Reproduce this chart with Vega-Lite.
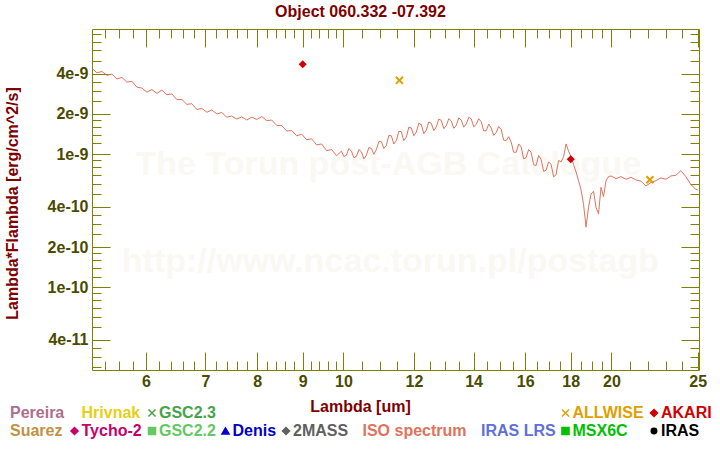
{
  "$schema": "https://vega.github.io/schema/vega-lite/v6.json",
  "autosize": {"type": "none"},
  "width": 607,
  "height": 341,
  "padding": {"left": 92, "top": 29, "right": 21, "bottom": 80},
  "background": "white",
  "title": {"text": "Object 060.332 -07.392", "frame": "group", "anchor": "middle", "dx": -35, "dy": 15, "offset": 11, "baseline": "alphabetic", "font": "Liberation Sans", "fontSize": 16, "fontWeight": "bold", "color": "#800000"},
  "config": {
    "view": {"stroke": null},
    "axis": {"grid": false, "domainColor": "#808000", "tickColor": "#808000", "domainWidth": 1, "tickWidth": 1, "labelColor": "#4b4b00", "labelFont": "Liberation Sans", "labelFontWeight": "bold", "labelFontSize": 16, "titleFont": "Liberation Sans", "titleFontWeight": "bold", "titleFontSize": 16, "titleColor": "#800000", "labelFlush": false, "labelOverlap": false}
  },
  "datasets": {
    "iso": [
      {"source": "ISO spectrum", "wl": 5.220, "flux": 4.39e-9},
      {"source": "ISO spectrum", "wl": 5.288, "flux": 4.08e-9},
      {"source": "ISO spectrum", "wl": 5.356, "flux": 4.17e-9},
      {"source": "ISO spectrum", "wl": 5.426, "flux": 3.90e-9},
      {"source": "ISO spectrum", "wl": 5.496, "flux": 3.99e-9},
      {"source": "ISO spectrum", "wl": 5.568, "flux": 3.66e-9},
      {"source": "ISO spectrum", "wl": 5.640, "flux": 3.76e-9},
      {"source": "ISO spectrum", "wl": 5.713, "flux": 3.47e-9},
      {"source": "ISO spectrum", "wl": 5.788, "flux": 3.52e-9},
      {"source": "ISO spectrum", "wl": 5.863, "flux": 3.18e-9},
      {"source": "ISO spectrum", "wl": 5.939, "flux": 3.13e-9},
      {"source": "ISO spectrum", "wl": 6.016, "flux": 2.92e-9},
      {"source": "ISO spectrum", "wl": 6.094, "flux": 3.05e-9},
      {"source": "ISO spectrum", "wl": 6.174, "flux": 2.86e-9},
      {"source": "ISO spectrum", "wl": 6.254, "flux": 3.02e-9},
      {"source": "ISO spectrum", "wl": 6.335, "flux": 2.79e-9},
      {"source": "ISO spectrum", "wl": 6.418, "flux": 2.83e-9},
      {"source": "ISO spectrum", "wl": 6.501, "flux": 2.56e-9},
      {"source": "ISO spectrum", "wl": 6.586, "flux": 2.57e-9},
      {"source": "ISO spectrum", "wl": 6.671, "flux": 2.36e-9},
      {"source": "ISO spectrum", "wl": 6.758, "flux": 2.39e-9},
      {"source": "ISO spectrum", "wl": 6.846, "flux": 2.16e-9},
      {"source": "ISO spectrum", "wl": 6.935, "flux": 2.20e-9},
      {"source": "ISO spectrum", "wl": 7.025, "flux": 2.06e-9},
      {"source": "ISO spectrum", "wl": 7.116, "flux": 2.14e-9},
      {"source": "ISO spectrum", "wl": 7.209, "flux": 2.00e-9},
      {"source": "ISO spectrum", "wl": 7.302, "flux": 2.05e-9},
      {"source": "ISO spectrum", "wl": 7.397, "flux": 1.89e-9},
      {"source": "ISO spectrum", "wl": 7.493, "flux": 1.93e-9},
      {"source": "ISO spectrum", "wl": 7.591, "flux": 1.83e-9},
      {"source": "ISO spectrum", "wl": 7.689, "flux": 1.90e-9},
      {"source": "ISO spectrum", "wl": 7.789, "flux": 1.80e-9},
      {"source": "ISO spectrum", "wl": 7.890, "flux": 1.89e-9},
      {"source": "ISO spectrum", "wl": 7.993, "flux": 1.82e-9},
      {"source": "ISO spectrum", "wl": 8.097, "flux": 1.91e-9},
      {"source": "ISO spectrum", "wl": 8.202, "flux": 1.78e-9},
      {"source": "ISO spectrum", "wl": 8.308, "flux": 1.80e-9},
      {"source": "ISO spectrum", "wl": 8.416, "flux": 1.64e-9},
      {"source": "ISO spectrum", "wl": 8.526, "flux": 1.63e-9},
      {"source": "ISO spectrum", "wl": 8.637, "flux": 1.49e-9},
      {"source": "ISO spectrum", "wl": 8.749, "flux": 1.50e-9},
      {"source": "ISO spectrum", "wl": 8.862, "flux": 1.37e-9},
      {"source": "ISO spectrum", "wl": 8.977, "flux": 1.41e-9},
      {"source": "ISO spectrum", "wl": 9.094, "flux": 1.28e-9},
      {"source": "ISO spectrum", "wl": 9.212, "flux": 1.30e-9},
      {"source": "ISO spectrum", "wl": 9.332, "flux": 1.17e-9},
      {"source": "ISO spectrum", "wl": 9.453, "flux": 1.19e-9},
      {"source": "ISO spectrum", "wl": 9.576, "flux": 1.06e-9},
      {"source": "ISO spectrum", "wl": 9.700, "flux": 1.08e-9},
      {"source": "ISO spectrum", "wl": 9.826, "flux": 0.97e-9},
      {"source": "ISO spectrum", "wl": 9.949, "flux": 1.05e-9},
      {"source": "ISO spectrum", "wl": 10.013, "flux": 0.955e-9},
      {"source": "ISO spectrum", "wl": 10.078, "flux": 0.98e-9},
      {"source": "ISO spectrum", "wl": 10.143, "flux": 1.10e-9},
      {"source": "ISO spectrum", "wl": 10.209, "flux": 1.05e-9},
      {"source": "ISO spectrum", "wl": 10.275, "flux": 0.938e-9},
      {"source": "ISO spectrum", "wl": 10.342, "flux": 0.96e-9},
      {"source": "ISO spectrum", "wl": 10.409, "flux": 1.08e-9},
      {"source": "ISO spectrum", "wl": 10.476, "flux": 1.04e-9},
      {"source": "ISO spectrum", "wl": 10.544, "flux": 0.92e-9},
      {"source": "ISO spectrum", "wl": 10.612, "flux": 0.98e-9},
      {"source": "ISO spectrum", "wl": 10.681, "flux": 1.12e-9},
      {"source": "ISO spectrum", "wl": 10.750, "flux": 1.10e-9},
      {"source": "ISO spectrum", "wl": 10.820, "flux": 0.995e-9},
      {"source": "ISO spectrum", "wl": 10.890, "flux": 1.08e-9},
      {"source": "ISO spectrum", "wl": 10.960, "flux": 1.24e-9},
      {"source": "ISO spectrum", "wl": 11.031, "flux": 1.24e-9},
      {"source": "ISO spectrum", "wl": 11.102, "flux": 1.10e-9},
      {"source": "ISO spectrum", "wl": 11.174, "flux": 1.16e-9},
      {"source": "ISO spectrum", "wl": 11.247, "flux": 1.38e-9},
      {"source": "ISO spectrum", "wl": 11.320, "flux": 1.37e-9},
      {"source": "ISO spectrum", "wl": 11.393, "flux": 1.19e-9},
      {"source": "ISO spectrum", "wl": 11.467, "flux": 1.26e-9},
      {"source": "ISO spectrum", "wl": 11.541, "flux": 1.48e-9},
      {"source": "ISO spectrum", "wl": 11.616, "flux": 1.47e-9},
      {"source": "ISO spectrum", "wl": 11.691, "flux": 1.26e-9},
      {"source": "ISO spectrum", "wl": 11.767, "flux": 1.34e-9},
      {"source": "ISO spectrum", "wl": 11.843, "flux": 1.59e-9},
      {"source": "ISO spectrum", "wl": 11.920, "flux": 1.57e-9},
      {"source": "ISO spectrum", "wl": 11.997, "flux": 1.37e-9},
      {"source": "ISO spectrum", "wl": 12.075, "flux": 1.46e-9},
      {"source": "ISO spectrum", "wl": 12.153, "flux": 1.70e-9},
      {"source": "ISO spectrum", "wl": 12.231, "flux": 1.67e-9},
      {"source": "ISO spectrum", "wl": 12.310, "flux": 1.42e-9},
      {"source": "ISO spectrum", "wl": 12.390, "flux": 1.51e-9},
      {"source": "ISO spectrum", "wl": 12.470, "flux": 1.74e-9},
      {"source": "ISO spectrum", "wl": 12.551, "flux": 1.70e-9},
      {"source": "ISO spectrum", "wl": 12.632, "flux": 1.50e-9},
      {"source": "ISO spectrum", "wl": 12.714, "flux": 1.60e-9},
      {"source": "ISO spectrum", "wl": 12.797, "flux": 1.83e-9},
      {"source": "ISO spectrum", "wl": 12.880, "flux": 1.79e-9},
      {"source": "ISO spectrum", "wl": 12.963, "flux": 1.55e-9},
      {"source": "ISO spectrum", "wl": 13.047, "flux": 1.63e-9},
      {"source": "ISO spectrum", "wl": 13.132, "flux": 1.84e-9},
      {"source": "ISO spectrum", "wl": 13.217, "flux": 1.77e-9},
      {"source": "ISO spectrum", "wl": 13.302, "flux": 1.56e-9},
      {"source": "ISO spectrum", "wl": 13.388, "flux": 1.64e-9},
      {"source": "ISO spectrum", "wl": 13.475, "flux": 1.87e-9},
      {"source": "ISO spectrum", "wl": 13.562, "flux": 1.80e-9},
      {"source": "ISO spectrum", "wl": 13.650, "flux": 1.59e-9},
      {"source": "ISO spectrum", "wl": 13.739, "flux": 1.68e-9},
      {"source": "ISO spectrum", "wl": 13.828, "flux": 1.89e-9},
      {"source": "ISO spectrum", "wl": 13.917, "flux": 1.84e-9},
      {"source": "ISO spectrum", "wl": 14.007, "flux": 1.60e-9},
      {"source": "ISO spectrum", "wl": 14.098, "flux": 1.67e-9},
      {"source": "ISO spectrum", "wl": 14.189, "flux": 1.84e-9},
      {"source": "ISO spectrum", "wl": 14.281, "flux": 1.75e-9},
      {"source": "ISO spectrum", "wl": 14.374, "flux": 1.49e-9},
      {"source": "ISO spectrum", "wl": 14.467, "flux": 1.50e-9},
      {"source": "ISO spectrum", "wl": 14.561, "flux": 1.68e-9},
      {"source": "ISO spectrum", "wl": 14.655, "flux": 1.57e-9},
      {"source": "ISO spectrum", "wl": 14.750, "flux": 1.38e-9},
      {"source": "ISO spectrum", "wl": 14.845, "flux": 1.45e-9},
      {"source": "ISO spectrum", "wl": 14.941, "flux": 1.61e-9},
      {"source": "ISO spectrum", "wl": 15.038, "flux": 1.53e-9},
      {"source": "ISO spectrum", "wl": 15.135, "flux": 1.27e-9},
      {"source": "ISO spectrum", "wl": 15.233, "flux": 1.26e-9},
      {"source": "ISO spectrum", "wl": 15.332, "flux": 1.35e-9},
      {"source": "ISO spectrum", "wl": 15.431, "flux": 1.23e-9},
      {"source": "ISO spectrum", "wl": 15.531, "flux": 1.03e-9},
      {"source": "ISO spectrum", "wl": 15.632, "flux": 1.03e-9},
      {"source": "ISO spectrum", "wl": 15.733, "flux": 1.19e-9},
      {"source": "ISO spectrum", "wl": 15.835, "flux": 1.13e-9},
      {"source": "ISO spectrum", "wl": 15.937, "flux": 0.92e-9},
      {"source": "ISO spectrum", "wl": 16.040, "flux": 0.94e-9},
      {"source": "ISO spectrum", "wl": 16.144, "flux": 1.08e-9},
      {"source": "ISO spectrum", "wl": 16.249, "flux": 1.03e-9},
      {"source": "ISO spectrum", "wl": 16.354, "flux": 0.83e-9},
      {"source": "ISO spectrum", "wl": 16.460, "flux": 0.82e-9},
      {"source": "ISO spectrum", "wl": 16.567, "flux": 0.975e-9},
      {"source": "ISO spectrum", "wl": 16.674, "flux": 0.91e-9},
      {"source": "ISO spectrum", "wl": 16.782, "flux": 0.741e-9},
      {"source": "ISO spectrum", "wl": 16.890, "flux": 0.755e-9},
      {"source": "ISO spectrum", "wl": 17.000, "flux": 0.871e-9},
      {"source": "ISO spectrum", "wl": 17.110, "flux": 0.836e-9},
      {"source": "ISO spectrum", "wl": 17.221, "flux": 0.673e-9},
      {"source": "ISO spectrum", "wl": 17.332, "flux": 0.70e-9},
      {"source": "ISO spectrum", "wl": 17.444, "flux": 0.895e-9},
      {"source": "ISO spectrum", "wl": 17.557, "flux": 0.871e-9},
      {"source": "ISO spectrum", "wl": 17.671, "flux": 0.955e-9},
      {"source": "ISO spectrum", "wl": 17.786, "flux": 1.19e-9},
      {"source": "ISO spectrum", "wl": 17.901, "flux": 1.05e-9},
      {"source": "ISO spectrum", "wl": 18.017, "flux": 0.95e-9},
      {"source": "ISO spectrum", "wl": 18.134, "flux": 0.83e-9},
      {"source": "ISO spectrum", "wl": 18.251, "flux": 0.733e-9},
      {"source": "ISO spectrum", "wl": 18.369, "flux": 0.63e-9},
      {"source": "ISO spectrum", "wl": 18.488, "flux": 0.537e-9},
      {"source": "ISO spectrum", "wl": 18.608, "flux": 0.417e-9},
      {"source": "ISO spectrum", "wl": 18.728, "flux": 0.282e-9},
      {"source": "ISO spectrum", "wl": 18.849, "flux": 0.398e-9},
      {"source": "ISO spectrum", "wl": 18.971, "flux": 0.50e-9},
      {"source": "ISO spectrum", "wl": 19.094, "flux": 0.525e-9},
      {"source": "ISO spectrum", "wl": 19.218, "flux": 0.398e-9},
      {"source": "ISO spectrum", "wl": 19.342, "flux": 0.355e-9},
      {"source": "ISO spectrum", "wl": 19.467, "flux": 0.562e-9},
      {"source": "ISO spectrum", "wl": 19.593, "flux": 0.479e-9},
      {"source": "ISO spectrum", "wl": 19.720, "flux": 0.631e-9},
      {"source": "ISO spectrum", "wl": 19.848, "flux": 0.676e-9},
      {"source": "ISO spectrum", "wl": 19.976, "flux": 0.684e-9},
      {"source": "ISO spectrum", "wl": 20.236, "flux": 0.653e-9},
      {"source": "ISO spectrum", "wl": 20.499, "flux": 0.676e-9},
      {"source": "ISO spectrum", "wl": 20.765, "flux": 0.646e-9},
      {"source": "ISO spectrum", "wl": 21.035, "flux": 0.668e-9},
      {"source": "ISO spectrum", "wl": 21.308, "flux": 0.638e-9},
      {"source": "ISO spectrum", "wl": 21.585, "flux": 0.624e-9},
      {"source": "ISO spectrum", "wl": 21.865, "flux": 0.575e-9},
      {"source": "ISO spectrum", "wl": 22.149, "flux": 0.610e-9},
      {"source": "ISO spectrum", "wl": 22.437, "flux": 0.631e-9},
      {"source": "ISO spectrum", "wl": 22.728, "flux": 0.661e-9},
      {"source": "ISO spectrum", "wl": 23.024, "flux": 0.646e-9},
      {"source": "ISO spectrum", "wl": 23.323, "flux": 0.684e-9},
      {"source": "ISO spectrum", "wl": 23.625, "flux": 0.692e-9},
      {"source": "ISO spectrum", "wl": 23.932, "flux": 0.750e-9},
      {"source": "ISO spectrum", "wl": 24.243, "flux": 0.676e-9},
      {"source": "ISO spectrum", "wl": 24.558, "flux": 0.589e-9},
      {"source": "ISO spectrum", "wl": 24.877, "flux": 0.543e-9},
      {"source": "ISO spectrum", "wl": 25.0, "flux": 0.537e-9}
    ],
    "phot": [
      {"source": "AKARI", "wl": 9.0, "flux": 4.73e-9},
      {"source": "AKARI", "wl": 18.0, "flux": 0.912e-9},
      {"source": "ALLWISE", "wl": 11.56, "flux": 3.58e-9},
      {"source": "ALLWISE", "wl": 22.09, "flux": 0.64e-9}
    ],
    "mark1": [{"t": "The Torun post-AGB Catalogue"}],
    "mark2": [{"t": "http://www.ncac.torun.pl/postagb"}]
  },
  "layer": [
    {
      "data": {"name": "mark1"},
      "mark": {"type": "text", "font": "Liberation Sans", "fontWeight": "bold", "fontSize": 34, "color": "#faf8f3", "align": "center", "baseline": "middle"},
      "encoding": {
        "x": {"datum": 11.23, "type": "quantitative", "scale": {"type": "log", "domain": [5.22, 25.08], "nice": false, "zero": false},
              "axis": {"orient": "top", "values": [6, 7, 8, 9, 10, 12, 14, 16, 18, 20, 25], "labels": false, "domain": true, "ticks": true, "tickSize": -18, "title": null}},
        "y": {"datum": 8.27e-10, "type": "quantitative", "scale": {"type": "log", "domain": [2.38e-11, 8.7e-9], "nice": false, "zero": false},
              "axis": {"orient": "right", "values": [4e-11, 1e-10, 2e-10, 4e-10, 1e-9, 2e-9, 4e-9], "labels": false, "domain": true, "ticks": true, "tickSize": -18, "title": null}},
        "text": {"field": "t", "type": "nominal"}
      }
    },
    {
      "data": {"name": "mark2"},
      "mark": {"type": "text", "font": "Liberation Sans", "fontWeight": "bold", "fontSize": 34, "color": "#faf8f3", "align": "center", "baseline": "middle"},
      "encoding": {
        "x": {"datum": 11.29, "type": "quantitative", "scale": {"type": "log", "domain": [5.22, 25.08], "nice": false, "zero": false},
              "axis": {"orient": "top", "values": [5.4, 5.6, 5.8, 6.2, 6.4, 6.6, 6.8, 7.2, 7.4, 7.6, 7.8, 8.2, 8.4, 8.6, 8.8, 9.2, 9.4, 9.6, 9.8, 10.5, 11, 11.5, 12.5, 13, 13.5, 14.5, 15, 15.5, 16.5, 17, 17.5, 18.5, 19, 19.5, 21, 22, 23, 24], "labels": false, "domain": false, "ticks": true, "tickSize": -9, "title": null}},
        "y": {"datum": 1.54e-10, "type": "quantitative", "scale": {"type": "log", "domain": [2.38e-11, 8.7e-9], "nice": false, "zero": false},
              "axis": {"orient": "right", "values": [2.5e-11, 3e-11, 3.5e-11, 5e-11, 6e-11, 7e-11, 8e-11, 9e-11, 1.2e-10, 1.4e-10, 1.6e-10, 1.8e-10, 2.5e-10, 3e-10, 3.5e-10, 5e-10, 6e-10, 7e-10, 8e-10, 9e-10, 1.2e-9, 1.4e-9, 1.6e-9, 1.8e-9, 2.5e-9, 3e-9, 3.5e-9, 5e-9, 6e-9, 7e-9, 8e-9], "labels": false, "domain": false, "ticks": true, "tickSize": -9, "title": null}},
        "text": {"field": "t", "type": "nominal"}
      }
    },
    {
      "data": {"name": "iso"},
      "mark": {"type": "line", "strokeWidth": 1, "clip": true},
      "encoding": {
        "x": {"field": "wl", "type": "quantitative", "scale": {"type": "log", "domain": [5.22, 25.08], "nice": false, "zero": false},
              "axis": {"orient": "bottom", "values": [6, 7, 8, 9, 10, 12, 14, 16, 18, 20, 25], "format": "~g", "ticks": false, "domain": true, "labelPadding": 3, "title": "Lambda [um]", "titleX": 268, "titleY": 41, "titleBaseline": "alphabetic"}},
        "y": {"field": "flux", "type": "quantitative", "scale": {"type": "log", "domain": [2.38e-11, 8.7e-9], "nice": false, "zero": false},
              "axis": {"orient": "left", "values": [4e-11, 1e-10, 2e-10, 4e-10, 1e-9, 2e-9, 4e-9], "format": ".0e", "ticks": false, "domain": true, "labelPadding": 4, "title": "Lambda*Flambda [erg/cm^2/s]", "titleX": -75, "titleY": 174, "titleBaseline": "alphabetic"}},
        "color": {
          "field": "source", "type": "nominal",
          "scale": {
            "domain": ["Pereira", "Hrivnak", "GSC2.3", "_1", "_2", "_3", "_4", "ALLWISE", "AKARI", "Suarez", "Tycho-2", "GSC2.2", "Denis", "2MASS", "ISO spectrum", "IRAS LRS", "MSX6C", "IRAS"],
            "range": ["#b06e8c", "#e8cf14", "#46a546", "#ffffff", "#ffffff", "#ffffff", "#ffffff", "#e0a000", "#d00000", "#c39146", "#c8006a", "#64c864", "#0000c8", "#606060", "#e2725b", "#6070d8", "#00c000", "#000000"]
          },
          "legend": {
            "orient": "none", "legendX": -93, "legendY": 376,
            "direction": "horizontal", "columns": 9, "title": null,
            "padding": 0, "columnPadding": 2.5, "rowPadding": 2,
            "labelFont": "Liberation Sans", "labelFontWeight": "bold", "labelFontSize": 16,
            "labelOffset": 0, "symbolSize": 50, "symbolStrokeWidth": 1.5, "symbolType": "circle",
            "labelExpr": "indexof(datum.label, '_') === 0 ? '' : datum.label",
            "encode": {
              "labels": {"update": {
                "fill": {"scale": "color", "field": "value"},
                "x": {"value": 11}
              }},
              "symbols": {"update": {
                "x": {"value": 4},
                "shape": {"signal": "datum.value === 'GSC2.3' || datum.value === 'ALLWISE' ? 'M-1,-1L1,1M-1,1L1,-1' : (datum.value === 'Tycho-2' || datum.value === '2MASS' || datum.value === 'AKARI') ? 'diamond' : (datum.value === 'GSC2.2' || datum.value === 'MSX6C') ? 'square' : datum.value === 'Denis' ? 'triangle-up' : 'circle'"},
                "fill": {"signal": "indexof(['GSC2.3', 'ALLWISE', 'GSC2.2', '2MASS'], datum.value) >= 0 ? 'transparent' : scale('color', datum.value)"},
                "stroke": {"scale": "color", "field": "value"},
                "size": {"signal": "indexof(['Pereira', 'Hrivnak', 'Suarez', 'ISO spectrum', 'IRAS LRS', '_1', '_2', '_3', '_4'], datum.value) >= 0 ? 0 : (datum.value === 'IRAS' ? 30 : 50)"},
                "strokeWidth": {"value": 1.5},
                "opacity": {"value": 1}
              }}
            }
          }
        }
      }
    },
    {
      "data": {"name": "phot"},
      "transform": [{"filter": "datum.source === 'AKARI'"}],
      "mark": {"type": "point", "shape": "diamond", "filled": true, "size": 64, "opacity": 1},
      "encoding": {
        "x": {"field": "wl", "type": "quantitative", "scale": {"type": "log", "domain": [5.22, 25.08], "nice": false, "zero": false},
              "axis": {"orient": "bottom", "values": [6, 7, 8, 9, 10, 12, 14, 16, 18, 20, 25], "labels": false, "domain": false, "ticks": true, "tickSize": -18, "title": null}},
        "y": {"field": "flux", "type": "quantitative", "scale": {"type": "log", "domain": [2.38e-11, 8.7e-9], "nice": false, "zero": false},
              "axis": {"orient": "left", "values": [4e-11, 1e-10, 2e-10, 4e-10, 1e-9, 2e-9, 4e-9], "labels": false, "domain": false, "ticks": true, "tickSize": -18, "title": null}},
        "color": {"field": "source", "type": "nominal", "legend": null}
      }
    },
    {
      "data": {"name": "phot"},
      "transform": [{"filter": "datum.source === 'ALLWISE'"}],
      "mark": {"type": "point", "shape": "M-1,-1L1,1M-1,1L1,-1", "filled": false, "size": 50, "strokeWidth": 2, "opacity": 1},
      "encoding": {
        "x": {"field": "wl", "type": "quantitative", "scale": {"type": "log", "domain": [5.22, 25.08], "nice": false, "zero": false},
              "axis": {"orient": "bottom", "values": [5.4, 5.6, 5.8, 6.2, 6.4, 6.6, 6.8, 7.2, 7.4, 7.6, 7.8, 8.2, 8.4, 8.6, 8.8, 9.2, 9.4, 9.6, 9.8, 10.5, 11, 11.5, 12.5, 13, 13.5, 14.5, 15, 15.5, 16.5, 17, 17.5, 18.5, 19, 19.5, 21, 22, 23, 24], "labels": false, "domain": false, "ticks": true, "tickSize": -9, "title": null}},
        "y": {"field": "flux", "type": "quantitative", "scale": {"type": "log", "domain": [2.38e-11, 8.7e-9], "nice": false, "zero": false},
              "axis": {"orient": "left", "values": [2.5e-11, 3e-11, 3.5e-11, 5e-11, 6e-11, 7e-11, 8e-11, 9e-11, 1.2e-10, 1.4e-10, 1.6e-10, 1.8e-10, 2.5e-10, 3e-10, 3.5e-10, 5e-10, 6e-10, 7e-10, 8e-10, 9e-10, 1.2e-9, 1.4e-9, 1.6e-9, 1.8e-9, 2.5e-9, 3e-9, 3.5e-9, 5e-9, 6e-9, 7e-9, 8e-9], "labels": false, "domain": false, "ticks": true, "tickSize": -9, "title": null}},
        "color": {"field": "source", "type": "nominal", "legend": null}
      }
    }
  ],
  "resolve": {"axis": {"x": "independent", "y": "independent"}}
}
